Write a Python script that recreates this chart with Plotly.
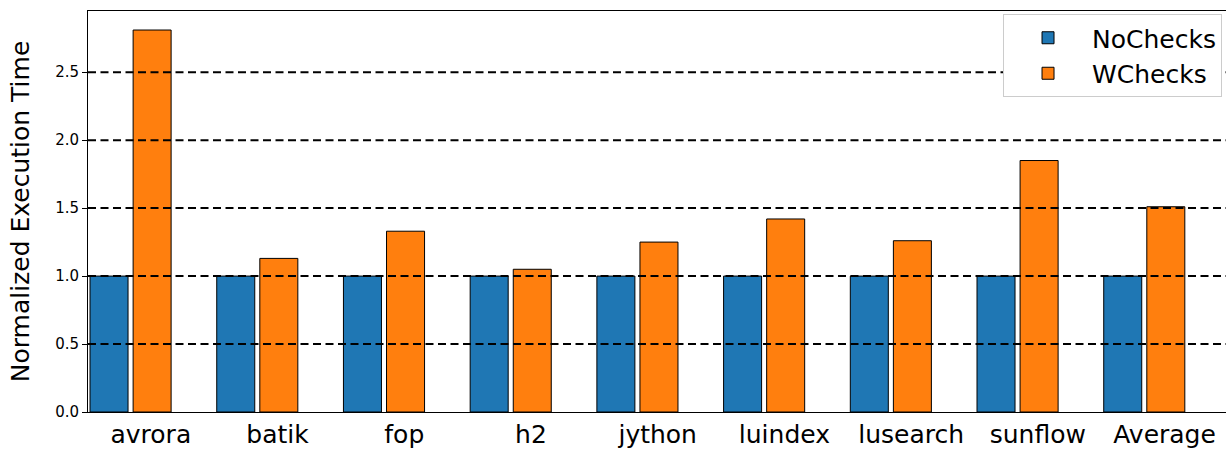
import plotly.graph_objects as go

categories = ["avrora", "batik", "fop", "h2", "jython", "luindex", "lusearch", "sunflow", "Average"]
no_checks = [1.0, 1.0, 1.0, 1.0, 1.0, 1.0, 1.0, 1.0, 1.0]
w_checks = [2.81, 1.13, 1.33, 1.05, 1.25, 1.42, 1.26, 1.85, 1.51]
y_ticks = [0.0, 0.5, 1.0, 1.5, 2.0, 2.5]
y_tick_labels = ["0.0", "0.5", "1.0", "1.5", "2.0", "2.5"]

BAR_W = 0.3
OFFSET = 0.34
TICK_SHIFT = 0.33
idx = list(range(len(categories)))

FONT = "DejaVu Sans"

fig = go.Figure()
fig.add_trace(go.Bar(
    x=idx, y=no_checks, width=BAR_W, name="NoChecks",
    marker=dict(color="#1f77b4", line=dict(color="black", width=1)),
))
fig.add_trace(go.Bar(
    x=[i + OFFSET for i in idx], y=w_checks, width=BAR_W, name="WChecks",
    marker=dict(color="#ff7f0e", line=dict(color="black", width=1)),
))

for v in y_ticks[1:]:
    fig.add_shape(type="line", xref="paper", yref="y", x0=0, x1=1, y0=v, y1=v,
                  line=dict(color="black", width=2, dash="8px,4.5px"), layer="above")

fig.update_layout(
    width=1226, height=449,
    margin=dict(l=88, r=0, t=11, b=37, autoexpand=False),
    paper_bgcolor="white", plot_bgcolor="white",
    font=dict(family=FONT, color="black"),
    barmode="overlay",
    showlegend=True,
    legend=dict(
        x=0.9965, xanchor="right", y=0.9925, yanchor="top",
        font=dict(size=25, family=FONT, color="black"),
        itemwidth=78,
        bordercolor="#cccccc", borderwidth=1, bgcolor="white",
    ),
    xaxis=dict(
        range=[-0.166, 8.815], automargin=False,
        tickvals=[i + TICK_SHIFT for i in idx], ticktext=categories,
        tickfont=dict(size=25, family=FONT, color="black"),
        ticks="", showgrid=False, zeroline=False,
        showline=True, linecolor="black", linewidth=1, mirror=True,
    ),
    yaxis=dict(
        range=[0, 2.95], automargin=False,
        tickvals=y_ticks, ticktext=y_tick_labels,
        tickfont=dict(size=15, family=FONT, color="black"),
        ticks="outside", ticklen=5, tickwidth=1, tickcolor="black",
        showgrid=False, zeroline=False,
        showline=True, linecolor="black", linewidth=1,
        title=dict(text="Normalized Execution Time", font=dict(size=25, family=FONT, color="black"), standoff=18),
    ),
)

fig.write_html("out.html", config={"displayModeBar": False},
               post_script="document.body.style.margin='0';document.body.style.overflow='hidden';")
